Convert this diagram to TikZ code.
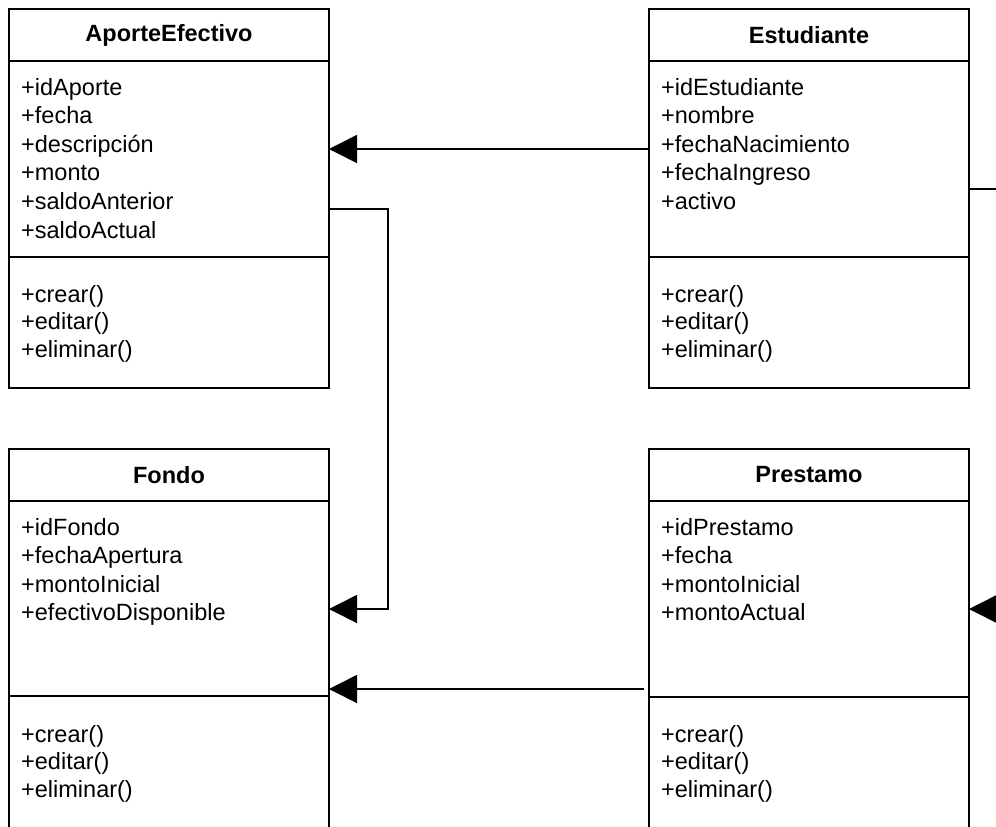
\documentclass[tikz,border=0pt]{standalone}
\usepackage{fontspec}
\setmainfont{Liberation Sans}
\usetikzlibrary{arrows.meta}
\begin{document}
\begin{tikzpicture}[x=1pt,y=-1pt,
  classbox/.style={draw, line width=1.6pt, minimum width=320pt, minimum height=#1,
    inner sep=0pt, outer sep=0pt, anchor=north west},
  classname/.style={font=\fontsize{23.5}{28}\selectfont\bfseries, inner sep=0pt},
  member/.style={font=\fontsize{23.5}{28}\selectfont, anchor=base west, inner sep=0pt},
  divider/.style={line width=1.6pt},
  link/.style={line width=1.6pt},
  assoc/.style={line width=1.6pt, -{Triangle[length=28pt,width=28pt]}}]

\fill[white] (0,0) rectangle (996,827);
\useasboundingbox (0,0) rectangle (996,827);
\clip (0,0) rectangle (996,827);

% class boxes
\node[classbox=379pt] (aporte) at (9,9) {};
\node[classbox=379pt] (estudiante) at (649,9) {};
\node[classbox=384pt] (fondo) at (9,449) {};
\node[classbox=384pt] (prestamo) at (649,449) {};

% compartments, titles and operations
\foreach \c/\title/\attrsep in {aporte/AporteEfectivo/248, estudiante/Estudiante/248,
                                fondo/Fondo/247, prestamo/Prestamo/248} {
  \draw[divider] ([yshift=-52pt]\c.north west) -- ([yshift=-52pt]\c.north east);
  \draw[divider] ([yshift=-\attrsep pt]\c.north west) -- ([yshift=-\attrsep pt]\c.north east);
  \node[classname] (\c-name) at ([yshift=-26pt]\c.north) {\title};
  \foreach \m [count=\i] in {+crear(),+editar(),+eliminar()}
    \node[member] (\c-m\i) at ([xshift=12pt,yshift={-293pt-(\i-1)*27.6pt}]\c.north west) {\m};
}

% attributes
\foreach \t [count=\i] in {+idAporte,+fecha,+descripción,+monto,+saldoAnterior,+saldoActual}
  \node[member] (aporte-a\i) at ([xshift=12pt,yshift={-86pt-(\i-1)*28.6pt}]aporte.north west) {\t};
\foreach \t [count=\i] in {+idEstudiante,+nombre,+fechaNacimiento,+fechaIngreso,+activo}
  \node[member] (estudiante-a\i) at ([xshift=12pt,yshift={-86pt-(\i-1)*28.6pt}]estudiante.north west) {\t};
\foreach \t [count=\i] in {+idFondo,+fechaApertura,+montoInicial,+efectivoDisponible}
  \node[member] (fondo-a\i) at ([xshift=12pt,yshift={-86pt-(\i-1)*28.6pt}]fondo.north west) {\t};
\foreach \t [count=\i] in {+idPrestamo,+fecha,+montoInicial,+montoActual}
  \node[member] (prestamo-a\i) at ([xshift=12pt,yshift={-86pt-(\i-1)*28.6pt}]prestamo.north west) {\t};

% connector levels
\coordinate (lvA) at (0,149);
\coordinate (lvB) at (0,209);
\coordinate (lvC) at (0,609);
\coordinate (lvD) at (0,689);
\coordinate (bend) at (388,0);
\coordinate (outE) at (1010,189);
\coordinate (outP) at (1010,609);

% associations
\draw[assoc] (estudiante.west |- lvA) -- (aporte.east |- lvA);
\draw[assoc] (aporte.east |- lvB) -| (bend |- lvC) -- (fondo.east |- lvC);
\draw[assoc] ([xshift=-5pt]prestamo.west |- lvD) -- (fondo.east |- lvD);
\draw[link] (estudiante.east |- outE) -- (outE);
\draw[assoc] (outP) -- (prestamo.east |- outP);
\end{tikzpicture}
\end{document}
